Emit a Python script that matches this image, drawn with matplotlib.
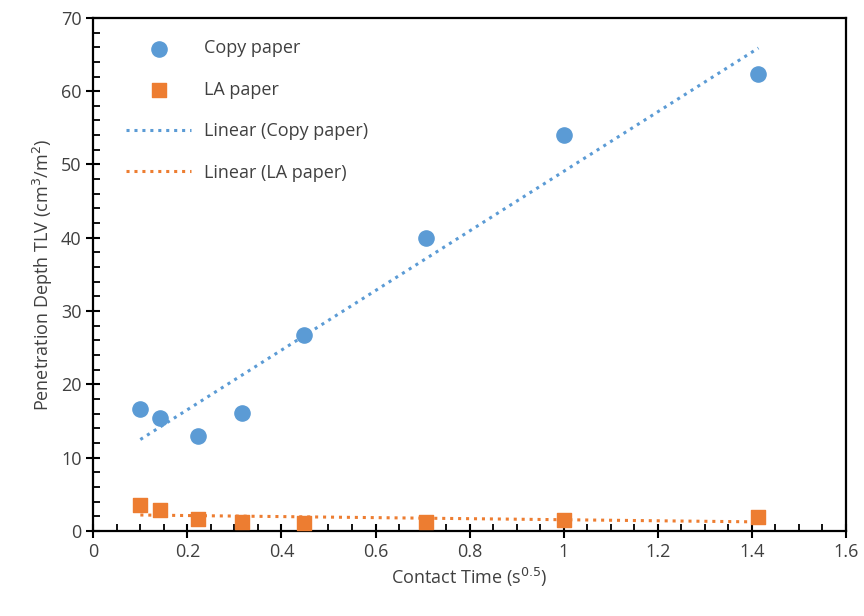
import matplotlib.pyplot as plt
import numpy as np
from matplotlib.ticker import MultipleLocator

# contact time (s^0.5) and penetration depth
contact_time = [0.1, 0.1414, 0.2236, 0.3162, 0.4472, 0.7071, 1.0, 1.4142]
copy_paper = [16.6, 15.4, 12.9, 16.1, 26.7, 40.0, 54.0, 62.4]
la_paper = [3.6, 2.8, 1.6, 1.2, 1.1, 1.2, 1.5, 1.9]

blue = '#5B9BD5'
orange = '#ED7D31'

plt.rcParams.update({"font.family": ["Open Sans", "DejaVu Sans"], "font.size": 12})
fig, ax = plt.subplots(figsize=(8.64, 6.16), dpi=100)
fig.subplots_adjust(left=0.108, right=0.979, top=0.971, bottom=0.138)

x = np.array(contact_time)
ax.scatter(x, copy_paper, s=120, color=blue, marker='o', label='Copy paper', zorder=3)
ax.scatter(x, la_paper, s=105, color=orange, marker='s', label='LA paper', zorder=3)

# Excel-style linear trendlines
for ys, c, name in [(copy_paper, blue, 'Copy paper'), (la_paper, orange, 'LA paper')]:
    k, b = np.polyfit(x, ys, 1)
    xx = np.array([x.min(), x.max()])
    ax.plot(xx, k * xx + b, linestyle=(0, (1, 1.6)), color=c, linewidth=2.2,
            label=f'Linear ({name})', zorder=2)

ax.set_xlim(0, 1.6)
ax.set_ylim(0, 70)
ax.xaxis.set_major_locator(MultipleLocator(0.2))
ax.xaxis.set_minor_locator(MultipleLocator(0.05))
ax.yaxis.set_major_locator(MultipleLocator(10))
ax.yaxis.set_minor_locator(MultipleLocator(2))
ax.xaxis.set_major_formatter(plt.FuncFormatter(lambda v, p: f'{v:g}'))
ax.tick_params(which='major', direction='inout', length=10, width=1.5, labelsize=13, colors='black')
ax.tick_params(which='minor', direction='in', length=5, width=1.3)
ax.tick_params(labelcolor='#404040')
for s in ax.spines.values():
    s.set_linewidth(1.6)

ax.set_xlabel('Contact Time (s$^{0.5}$)', fontsize=13, color='#404040')
ax.set_ylabel('Penetration Depth TLV (cm$^3$/m$^2$)', fontsize=13, color='#404040')

ax.legend(loc='upper left', frameon=False, fontsize=13, handlelength=3.6,
          handletextpad=0.7, labelspacing=1.3, borderaxespad=0.5, labelcolor='#404040',
          bbox_to_anchor=(0.022, 0.99))

plt.savefig('out.png', dpi=100)
